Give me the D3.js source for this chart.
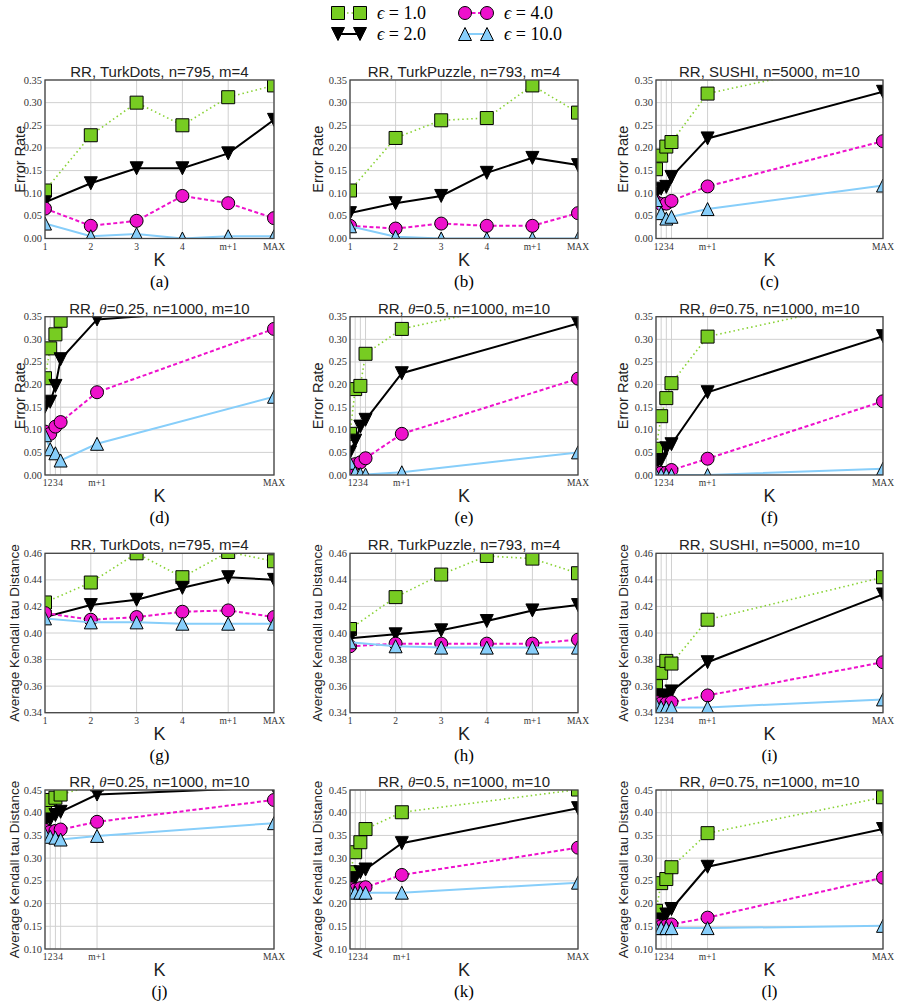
<!DOCTYPE html>
<html>
<head>
<meta charset="utf-8">
<script src="https://cdn.jsdelivr.net/npm/d3@7"></script>
<style>
  body { margin: 0; background: #fff; }
</style>
</head>
<body>
<script>
// x axis: K values and their labels
var kLabels = ["1", "2", "3", "4", "m+1", "MAX"];
var kM4 = [1, 2, 3, 4, 5, 6];
var kM10 = [1, 2, 3, 4, 11, 45];
var epsLabels = ["1.0", "2.0", "4.0", "10.0"];

// error rate, rows = eps 1, 2, 4, 10
var errTurkDots = [
  [0.106, 0.228, 0.300, 0.250, 0.312, 0.338],
  [0.080, 0.122, 0.155, 0.155, 0.188, 0.262],
  [0.066, 0.028, 0.039, 0.094, 0.078, 0.045],
  [0.033, 0.005, 0.010, 0.000, 0.005, 0.005]];
var errTurkPuzzle = [
  [0.106, 0.222, 0.261, 0.266, 0.338, 0.278],
  [0.056, 0.078, 0.094, 0.145, 0.178, 0.162],
  [0.028, 0.022, 0.033, 0.028, 0.028, 0.056],
  [0.027, 0.004, 0.000, 0.000, 0.000, 0.000]];
var errSushi = [
  [0.153, 0.183, 0.203, 0.213, 0.320, 0.404],
  [0.098, 0.110, 0.114, 0.136, 0.221, 0.324],
  [0.081, 0.076, 0.077, 0.083, 0.115, 0.215],
  [0.085, 0.056, 0.044, 0.048, 0.065, 0.117]];
var errTheta25 = [
  [0.214, 0.280, 0.311, 0.341, 0.460, 0.520],
  [0.151, 0.162, 0.197, 0.256, 0.344, 0.372],
  [0.096, 0.091, 0.107, 0.117, 0.183, 0.323],
  [0.088, 0.057, 0.048, 0.032, 0.069, 0.173]];
var errTheta50 = [
  [0.091, 0.190, 0.197, 0.268, 0.323, 0.408],
  [0.050, 0.076, 0.107, 0.122, 0.225, 0.335],
  [0.011, 0.024, 0.028, 0.037, 0.091, 0.213],
  [0.027, 0.005, 0.002, 0.001, 0.006, 0.050]];
var errTheta75 = [
  [0.058, 0.130, 0.170, 0.203, 0.306, 0.390],
  [0.022, 0.033, 0.059, 0.068, 0.183, 0.307],
  [0.006, 0.005, 0.005, 0.011, 0.036, 0.163],
  [0.000, 0.000, 0.000, 0.000, 0.000, 0.014]];

// average kendall tau distance
var ktTurkDots = [
  [0.423, 0.438, 0.460, 0.442, 0.461, 0.454],
  [0.412, 0.421, 0.425, 0.434, 0.442, 0.440],
  [0.415, 0.410, 0.412, 0.416, 0.417, 0.412],
  [0.411, 0.408, 0.408, 0.407, 0.407, 0.407]];
var ktTurkPuzzle = [
  [0.403, 0.427, 0.444, 0.458, 0.456, 0.445],
  [0.396, 0.399, 0.402, 0.409, 0.417, 0.421],
  [0.390, 0.392, 0.392, 0.392, 0.392, 0.395],
  [0.393, 0.390, 0.389, 0.389, 0.389, 0.389]];
var ktSushi = [
  [0.360, 0.370, 0.379, 0.377, 0.410, 0.442],
  [0.353, 0.353, 0.352, 0.356, 0.378, 0.429],
  [0.348, 0.347, 0.347, 0.348, 0.353, 0.378],
  [0.346, 0.344, 0.344, 0.344, 0.344, 0.350]];
var ktTheta25 = [
  [0.413, 0.428, 0.433, 0.440, 0.462, 0.490],
  [0.380, 0.385, 0.395, 0.402, 0.440, 0.456],
  [0.362, 0.358, 0.360, 0.363, 0.380, 0.428],
  [0.353, 0.347, 0.345, 0.341, 0.349, 0.377]];
var ktTheta50 = [
  [0.269, 0.313, 0.335, 0.364, 0.401, 0.451],
  [0.252, 0.256, 0.269, 0.275, 0.333, 0.410],
  [0.234, 0.231, 0.234, 0.236, 0.263, 0.323],
  [0.226, 0.224, 0.224, 0.224, 0.224, 0.246]];
var ktTheta75 = [
  [0.184, 0.245, 0.254, 0.280, 0.355, 0.434],
  [0.165, 0.164, 0.176, 0.188, 0.281, 0.364],
  [0.153, 0.150, 0.151, 0.154, 0.169, 0.257],
  [0.146, 0.146, 0.146, 0.146, 0.146, 0.151]];

var titles = ["RR, TurkDots, n=795, m=4", "RR, TurkPuzzle, n=793, m=4", "RR, SUSHI, n=5000, m=10",
  "RR, θ=0.25, n=1000, m=10", "RR, θ=0.5, n=1000, m=10", "RR, θ=0.75, n=1000, m=10"];
var captions = ["a", "b", "c", "d", "e", "f", "g", "h", "i", "j", "k", "l"];

var errTicks = d3.range(0, 8).map(function(i) { return i * 0.05; });
var ktTicksTurk = d3.range(0, 7).map(function(i) { return 0.34 + i * 0.02; });
var ktTicksTheta = d3.range(0, 8).map(function(i) { return 0.10 + i * 0.05; });

var panels = [
  {data: errTurkDots,   k: kM4,  ticks: errTicks, ylab: "Error Rate"},
  {data: errTurkPuzzle, k: kM4,  ticks: errTicks, ylab: "Error Rate"},
  {data: errSushi,      k: kM10, ticks: errTicks, ylab: "Error Rate"},
  {data: errTheta25,    k: kM10, ticks: errTicks, ylab: "Error Rate"},
  {data: errTheta50,    k: kM10, ticks: errTicks, ylab: "Error Rate"},
  {data: errTheta75,    k: kM10, ticks: errTicks, ylab: "Error Rate"},
  {data: ktTurkDots,    k: kM4,  ticks: ktTicksTurk, ylab: "Average Kendall tau Distance"},
  {data: ktTurkPuzzle,  k: kM4,  ticks: ktTicksTurk, ylab: "Average Kendall tau Distance"},
  {data: ktSushi,       k: kM10, ticks: ktTicksTurk, ylab: "Average Kendall tau Distance"},
  {data: ktTheta25,     k: kM10, ticks: ktTicksTheta, ylab: "Average Kendall tau Distance"},
  {data: ktTheta50,     k: kM10, ticks: ktTicksTheta, ylab: "Average Kendall tau Distance"},
  {data: ktTheta75,     k: kM10, ticks: ktTicksTheta, ylab: "Average Kendall tau Distance"}
];

// series styles: eps 1, 2, 4, 10
var styles = [
  {color: "#77cc22", line: "#88d233", dash: "1.5,3", width: 1.6, marker: "square"},
  {color: "#000000", line: "#000000", dash: null, width: 2, marker: "down"},
  {color: "#ee11cc", line: "#ee11cc", dash: "4,2.5", width: 2, marker: "circle"},
  {color: "#87cefa", line: "#87cefa", dash: null, width: 2, marker: "up"}
];

function markerPath(type) {
  var h = 6.5;
  if (type == "square") return "M" + -h + "," + -h + "H" + h + "V" + h + "H" + -h + "Z";
  if (type == "up") return "M0," + -h + "L" + h + "," + h + "H" + -h + "Z";
  if (type == "down") return "M0," + h + "L" + h + "," + -h + "H" + -h + "Z";
  return d3.arc()({innerRadius: 0, outerRadius: h, startAngle: 0, endAngle: 2 * Math.PI});
}

var sans = "'Liberation Sans', Arial, sans-serif";
var serif = "'Liberation Serif', 'DejaVu Serif', serif";

var colLeft = [45, 350, 656], colRight = [274, 578, 883];
var rowTop = [80, 316.7, 553.3, 790], rowBottom = [238.5, 475, 712.7, 949];
var ylabX = [[20, 318, 623], [14, 317, 623]];

var svg = d3.select("body").append("svg")
    .attr("width", 900)
    .attr("height", 1006);

panels.forEach(function(p, i) {
  var row = Math.floor(i / 3), col = i % 3;
  var x0 = colLeft[col], x1 = colRight[col], y0 = rowTop[row], y1 = rowBottom[row];

  var x = d3.scaleLinear().domain([1, d3.max(p.k)]).range([x0, x1]);
  var y = d3.scaleLinear().domain([p.ticks[0], p.ticks[p.ticks.length - 1]]).range([y1, y0]);

  var g = svg.append("g");

  // grid
  g.selectAll(".gy").data(p.ticks).enter().append("line")
      .attr("x1", x0).attr("x2", x1)
      .attr("y1", function(d) { return y(d); }).attr("y2", function(d) { return y(d); })
      .attr("stroke", "#d0d0d0").attr("stroke-width", 1);
  g.selectAll(".gx").data(p.k).enter().append("line")
      .attr("y1", y0).attr("y2", y1)
      .attr("x1", function(d) { return x(d); }).attr("x2", function(d) { return x(d); })
      .attr("stroke", "#d0d0d0").attr("stroke-width", 1);

  // tick labels
  g.selectAll(".ty").data(p.ticks).enter().append("text")
      .attr("x", x0 - 3).attr("y", function(d) { return y(d) + 3.5; })
      .attr("text-anchor", "end")
      .attr("font-family", serif).attr("font-size", 10.5).attr("fill", "#333")
      .text(function(d) { return d3.format(".2f")(d); });
  g.selectAll(".tx").data(p.k).enter().append("text")
      .attr("x", function(d) { return x(d); }).attr("y", y1 + 11)
      .attr("text-anchor", "middle")
      .attr("font-family", serif).attr("font-size", 9.5).attr("fill", "#333")
      .text(function(d, j) { return kLabels[j]; });

  var clipId = "clip" + i;
  svg.append("clipPath").attr("id", clipId).append("rect")
      .attr("x", x0).attr("y", y0).attr("width", x1 - x0).attr("height", y1 - y0);
  var plot = g.append("g").attr("clip-path", "url(#" + clipId + ")");

  var line = d3.line()
      .x(function(d, j) { return x(p.k[j]); })
      .y(function(d) { return y(d); });

  p.data.forEach(function(series, s) {
    var st = styles[s];
    plot.append("path")
        .attr("d", line(series))
        .attr("fill", "none")
        .attr("stroke", st.line)
        .attr("stroke-width", st.width)
        .attr("stroke-dasharray", st.dash);
    plot.selectAll(".m" + s).data(series).enter().append("path")
        .attr("d", markerPath(st.marker))
        .attr("transform", function(d, j) { return "translate(" + x(p.k[j]) + "," + y(d) + ")"; })
        .attr("fill", st.color)
        .attr("stroke", "#000")
        .attr("stroke-width", 1);
  });

  // frame
  g.append("rect")
      .attr("x", x0).attr("y", y0).attr("width", x1 - x0).attr("height", y1 - y0)
      .attr("fill", "none").attr("stroke", "#444").attr("stroke-width", 1.3);

  // title
  var title = titles[i % 6];
  var t = g.append("text")
      .attr("x", (x0 + x1) / 2).attr("y", y0 - 3)
      .attr("text-anchor", "middle")
      .attr("font-family", sans).attr("font-size", 15).attr("fill", "#222");
  var parts = title.split("θ");
  t.append("tspan").text(parts[0]);
  if (parts.length > 1) {
    t.append("tspan").attr("font-family", serif).attr("font-style", "italic").text("θ");
    t.append("tspan").text(parts[1]);
  }

  // axis labels
  g.append("text")
      .attr("transform", "translate(" + ylabX[row < 2 ? 0 : 1][col] + "," + (y0 + y1) / 2 + ") rotate(-90)")
      .attr("text-anchor", "middle").attr("dy", "0.35em")
      .attr("font-family", sans).attr("font-size", row < 2 ? 14.5 : 13.5).attr("fill", "#222")
      .text(p.ylab);
  g.append("text")
      .attr("x", (x0 + x1) / 2).attr("y", y1 + 27)
      .attr("text-anchor", "middle")
      .attr("font-family", sans).attr("font-size", 18).attr("fill", "#222")
      .text("K");
  g.append("text")
      .attr("x", (x0 + x1) / 2).attr("y", y1 + 48)
      .attr("text-anchor", "middle")
      .attr("font-family", serif).attr("font-size", 17).attr("fill", "#000")
      .text("(" + captions[i] + ")");
});

// legend, two columns: eps 1 & 2 left, eps 4 & 10 right
var legendX = [338, 465], legendY = [13, 34];
epsLabels.forEach(function(lab, s) {
  var st = styles[s];
  var lx = legendX[Math.floor(s / 2)], ly = legendY[s % 2];
  var lg = svg.append("g");
  lg.append("line")
      .attr("x1", lx).attr("x2", lx + 22).attr("y1", ly).attr("y2", ly)
      .attr("stroke", st.line).attr("stroke-width", st.width)
      .attr("stroke-dasharray", st.dash);
  [lx, lx + 22].forEach(function(mx) {
    lg.append("path")
        .attr("d", markerPath(st.marker))
        .attr("transform", "translate(" + mx + "," + ly + ")")
        .attr("fill", st.color).attr("stroke", "#000").attr("stroke-width", 1);
  });
  var tx = lg.append("text")
      .attr("x", lx + 39).attr("y", ly + 6)
      .attr("font-family", serif).attr("font-size", 18).attr("fill", "#000");
  tx.append("tspan").attr("font-style", "italic").text("ϵ");
  tx.append("tspan").text(" = " + lab);
});
</script>
</body>
</html>
